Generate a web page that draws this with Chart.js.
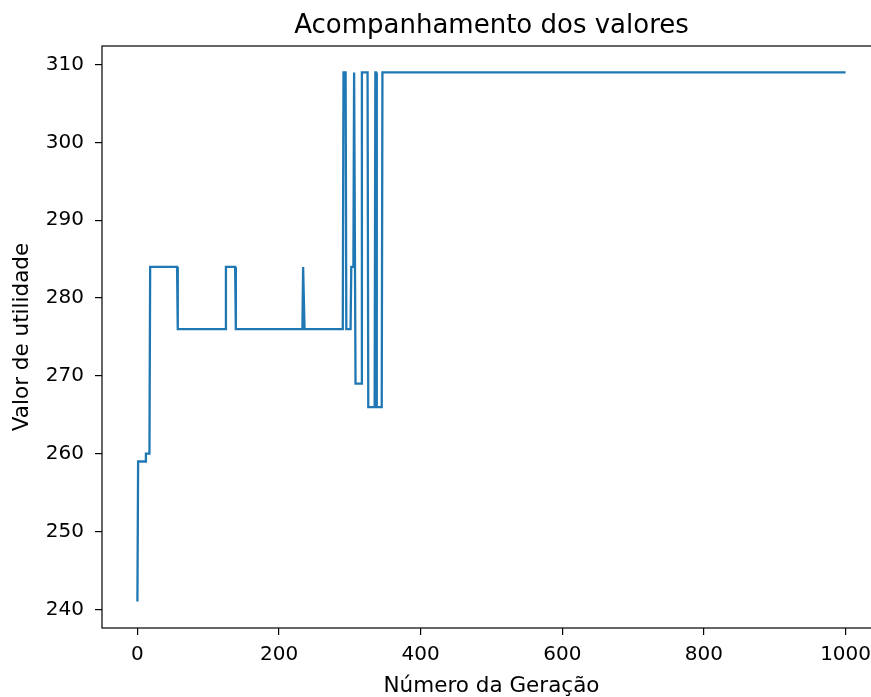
<!DOCTYPE html>
<html>
<head>
<meta charset="utf-8">
<script src="https://cdn.jsdelivr.net/npm/chart.js@4.4.0/dist/chart.umd.min.js"></script>
<style>
  html, body { margin: 0; padding: 0; overflow: hidden; background: #fff; }
  canvas { display: block; }
</style>
</head>
<body>
<canvas id="myChart" width="900" height="697"></canvas>
<script>
// generations where the value changes (the line is flat between them)
const generations = [0, 1, 11, 12, 17, 18, 56, 57, 124, 125, 138, 139, 233, 234, 235, 236,
  290, 291, 294, 295, 301, 302, 305, 306, 307, 308, 316, 317, 325, 326, 335, 336, 337, 338, 345, 346, 1000];
const values = [241, 259, 259, 260, 260, 284, 284, 276, 276, 284, 284, 276, 276, 284, 284, 276,
  276, 309, 309, 276, 276, 284, 284, 309, 309, 269, 269, 309, 309, 266, 266, 309, 309, 266, 266, 309, 309];

const xTicks = [0, 200, 400, 600, 800, 1000];
const yTicks = [240, 250, 260, 270, 280, 290, 300, 310];

const titleText = "Acompanhamento dos valores";
const xLabel = "Número da Geração";
const yLabel = "Valor de utilidade";

const FONT = "'DejaVu Sans', sans-serif";

let points = [];
for (let i = 0; i < generations.length; i++) {
  points.push({ x: generations[i], y: values[i] });
}

// title centered over the plot area + the box round it
const frame = {
  id: "frame",
  afterDraw(chart) {
    const { ctx, chartArea } = chart;
    ctx.save();
    ctx.strokeStyle = "#000";
    ctx.lineWidth = 1.2;
    ctx.strokeRect(chartArea.left, chartArea.top, chartArea.right - chartArea.left, chartArea.bottom - chartArea.top);
    ctx.fillStyle = "#000";
    ctx.font = "26px " + FONT;
    ctx.textAlign = "center";
    ctx.textBaseline = "alphabetic";
    ctx.fillText(titleText, (chartArea.left + chartArea.right) / 2, 33);
    ctx.restore();
  },
};

const ctx = document.getElementById("myChart");

new Chart(ctx, {
  type: "line",
  data: {
    datasets: [
      {
        data: points,
        borderColor: "#1f77b4",
        borderWidth: 2.3,
        pointRadius: 0,
        tension: 0,
        fill: false,
      },
    ],
  },
  options: {
    responsive: false,
    animation: false,
    devicePixelRatio: 1,
    layout: { padding: { top: 46, right: 19, left: 0, bottom: 0 } },
    plugins: {
      legend: { display: false },
      tooltip: { enabled: false },
    },
    scales: {
      x: {
        type: "linear",
        min: -50,
        max: 1050,
        afterBuildTicks: (scale) => { scale.ticks = xTicks.map((v) => ({ value: v })); },
        afterFit: (scale) => { scale.height = 69; },
        border: { display: false },
        grid: { drawOnChartArea: false, drawTicks: true, tickLength: 7, color: "#000", lineWidth: 1.2 },
        ticks: {
          color: "#000",
          font: { family: FONT, size: 20 },
          padding: 8,
          maxRotation: 0,
          callback: (v) => String(v),
        },
        title: { display: true, text: xLabel, color: "#000", font: { family: FONT, size: 21.5 }, padding: { top: 0, bottom: -2 } },
      },
      y: {
        type: "linear",
        min: 237.6,
        max: 312.4,
        afterBuildTicks: (scale) => { scale.ticks = yTicks.map((v) => ({ value: v })); },
        afterFit: (scale) => { scale.width = 102; },
        border: { display: false },
        grid: { drawOnChartArea: false, drawTicks: true, tickLength: 7, color: "#000", lineWidth: 1.2 },
        ticks: { color: "#000", font: { family: FONT, size: 20 }, padding: 11, callback: (v) => String(v) },
        title: { display: true, text: yLabel, color: "#000", font: { family: FONT, size: 21.5 }, padding: { top: 10, bottom: 0 } },
      },
    },
  },
  plugins: [frame],
});
</script>
</body>
</html>
